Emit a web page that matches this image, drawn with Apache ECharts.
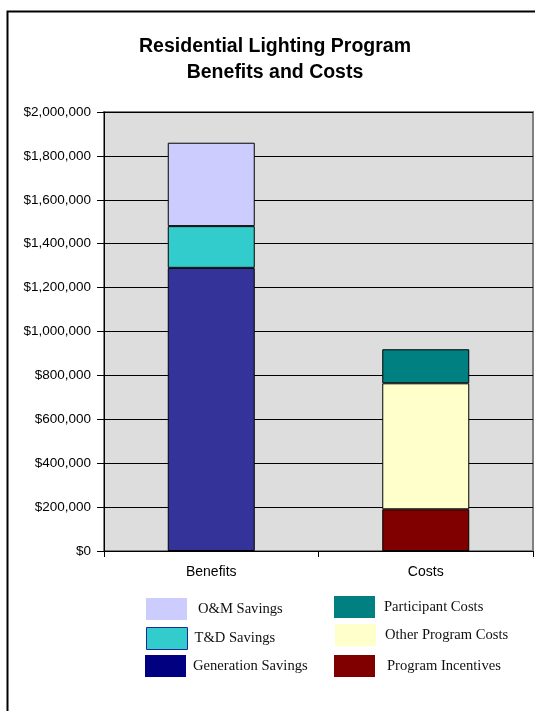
<!DOCTYPE html>
<html>
<head>
<meta charset="utf-8">
<script src="https://cdn.jsdelivr.net/npm/echarts@6/dist/echarts.min.js"></script>
<style>html,body{margin:0;padding:0;background:#fff;}#c{width:535px;height:711px;}</style>
</head>
<body>
<div id="c"></div>
<script>
var categories = ['Benefits', 'Costs'];
var generationSavings = [1290000, null];
var tdSavings = [190000, null];
var omSavings = [380000, null];
var programIncentives = [null, 190000];
var otherProgramCosts = [null, 574000];
var participantCosts = [null, 155000];
var yMin = 0, yMax = 2000000, yStep = 200000;

function money(v) {
  return '$' + String(v).replace(/\B(?=(\d{3})+(?!\d))/g, ',');
}

var chart = echarts.init(document.getElementById('c'), null, {renderer: 'canvas'});
var barStyle = function (c) { return {color: c, borderColor: '#000', borderWidth: 1}; };
function leg(name, left, top, style, gap) {
  return {
    left: left, top: top, padding: 0, itemWidth: 41, itemHeight: 22, itemGap: 0,
    icon: 'rect', selectedMode: false,
    textStyle: {fontFamily: 'Liberation Serif', fontSize: 14.6, color: '#111', padding: [0, 0, 0, gap]},
    data: [{name: name, itemStyle: style}]
  };
}
chart.setOption({
  animation: false,
  title: {
    text: 'Residential Lighting Program\nBenefits and Costs',
    left: 275, top: 34, padding: 0, textAlign: 'center',
    textStyle: {fontFamily: 'Liberation Sans', fontWeight: 'bold', fontSize: 19.5, lineHeight: 26, color: '#000'}
  },
  graphic: [{
    type: 'rect', left: 5, top: 9, z: -1,
    shape: {width: 600, height: 800},
    style: {fill: 'none', stroke: '#000', lineWidth: 2}
  }],
  legend: [
    leg('O&M Savings', 146, 598, {color: '#CCCCFF', borderWidth: 0}, 6),
    leg('T&D Savings', 146, 627, {color: '#33CCCC', borderColor: '#1a2a99', borderWidth: 1}, 2),
    leg('Generation Savings', 145, 655, {color: '#000080', borderWidth: 0}, 2),
    leg('Participant Costs', 334, 596, {color: '#008080', borderWidth: 0}, 4),
    leg('Other Program Costs', 335, 624, {color: '#FFFFCC', borderWidth: 0}, 4),
    leg('Program Incentives', 334, 655, {color: '#800000', borderWidth: 0}, 7)
  ],
  grid: {
    left: 104, right: 2, top: 112, bottom: 160,
    show: true, backgroundColor: '#DDDDDD', borderColor: '#808080', borderWidth: 2
  },
  xAxis: {
    type: 'category', data: categories, boundaryGap: true,
    axisLine: {lineStyle: {color: '#000', width: 1}},
    axisTick: {show: true, length: 6, lineStyle: {color: '#000'}},
    axisLabel: {fontFamily: 'Liberation Sans', fontSize: 14, color: '#000', margin: 14}
  },
  yAxis: {
    type: 'value', min: yMin, max: yMax, interval: yStep,
    axisLine: {show: true, lineStyle: {color: '#000', width: 1}},
    axisTick: {show: true, length: 7, lineStyle: {color: '#000'}},
    splitLine: {lineStyle: {color: '#000', width: 1}},
    axisLabel: {fontFamily: 'Liberation Sans', fontSize: 13.5, color: '#000', margin: 13, formatter: money}
  },
  series: [
    {name: 'Generation Savings', type: 'bar', stack: 'b', barWidth: 87, data: generationSavings, itemStyle: barStyle('#333399')},
    {name: 'T&D Savings', type: 'bar', stack: 'b', barWidth: 87, data: tdSavings, itemStyle: barStyle('#33CCCC')},
    {name: 'O&M Savings', type: 'bar', stack: 'b', barWidth: 87, data: omSavings, itemStyle: barStyle('#CCCCFF')},
    {name: 'Program Incentives', type: 'bar', stack: 'b', barWidth: 87, data: programIncentives, itemStyle: barStyle('#800000')},
    {name: 'Other Program Costs', type: 'bar', stack: 'b', barWidth: 87, data: otherProgramCosts, itemStyle: barStyle('#FFFFCC')},
    {name: 'Participant Costs', type: 'bar', stack: 'b', barWidth: 87, data: participantCosts, itemStyle: barStyle('#008080')}
  ]
});
</script>
</body>
</html>
